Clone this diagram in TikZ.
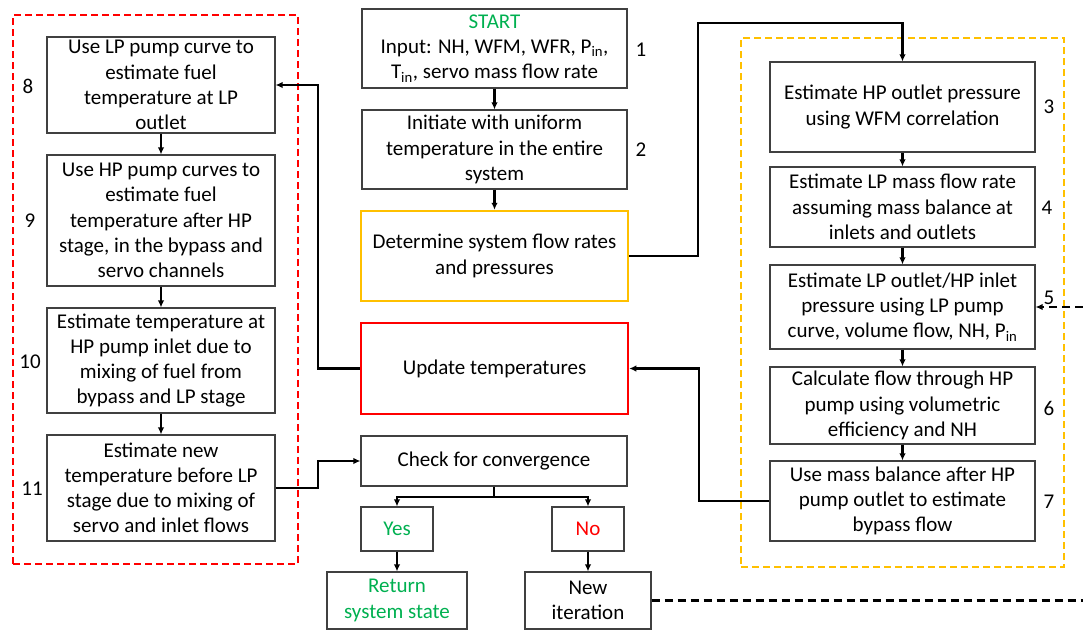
\documentclass[tikz,border=0pt]{standalone}
\usepackage{fontspec}
\setmainfont{Carlito}
\usetikzlibrary{arrows.meta}
\definecolor{ylw}{HTML}{FFC000}
\definecolor{rd}{HTML}{FF0000}
\definecolor{grn}{HTML}{00B050}
\tikzset{
  box/.style={draw=black!75, line width=1.2pt, align=center, inner sep=0pt, font=\fontsize{21}{25.2}\selectfont},
  ybox/.style={box, draw=ylw, line width=2.5pt},
  rbox/.style={box, draw=rd, line width=2.5pt},
  grp/.style={line width=2.2pt, dash pattern=on 7pt off 4pt, inner sep=0pt},
  conn/.style={line width=2.2pt, -{Latex[length=7pt,width=6.5pt]}},
  plain/.style={line width=2.2pt},
  dconn/.style={line width=2.2pt, dash pattern=on 8pt off 5pt},
  numlbl/.style={font=\fontsize{21}{24}\selectfont, inner sep=0pt},
}
\begin{document}
\begin{tikzpicture}[x=1pt,y=-1pt]
\useasboundingbox (0,0) rectangle (1083,630);
% group frames
\node[grp, draw=rd, minimum width=285pt, minimum height=549pt] (gl) at (155.5,289.5) {};
\node[grp, draw=ylw, minimum width=323pt, minimum height=529pt] (gr) at (902.5,302.5) {};
% center column
\node[box, minimum width=265pt, minimum height=79pt] (b1) at (494.5,48.5)
  {\textcolor{grn}{START}\\Input: NH, WFM, WFR, P\textsubscript{in},\\T\textsubscript{in}, servo mass flow rate};
\node[box, minimum width=265pt, minimum height=79pt] (b2) at (494.5,149.5)
  {Initiate with uniform\\temperature in the entire\\system};
\node[ybox, minimum width=267pt, minimum height=90pt] (det) at (494.5,256)
  {Determine system flow rates\\and pressures};
\node[rbox, minimum width=267pt, minimum height=91pt] (upd) at (494.5,368.5)
  {Update temperatures};
\node[box, minimum width=266pt, minimum height=50pt] (chk) at (494,461)
  {Check for convergence};
\node[box, minimum width=72pt, minimum height=44pt] (yes) at (397,529)
  {\textcolor{grn}{Yes}};
\node[box, minimum width=72pt, minimum height=44pt] (no) at (588,529)
  {\textcolor{rd}{No}};
\node[box, minimum width=140pt, minimum height=57pt] (ret) at (397,600.5)
  {\textcolor{grn}{Return}\\\textcolor{grn}{system state}};
\node[box, minimum width=126pt, minimum height=57pt] (new) at (588,600.5)
  {New\\iteration};
\node[numlbl] (n1) at (641,50) {1};
\node[numlbl] (n2) at (641,150) {2};
% right column
\node[box, minimum width=265pt, minimum height=90pt] (r3) at (902.5,107)
  {Estimate HP outlet pressure\\using WFM correlation};
\node[box, minimum width=265pt, minimum height=80pt] (r4) at (902.5,207)
  {Estimate LP mass flow rate\\assuming mass balance at\\inlets and outlets};
\node[box, minimum width=265pt, minimum height=84pt] (r5) at (902.5,307)
  {Estimate LP outlet/HP inlet\\pressure using LP pump\\curve, volume flow, NH, P\textsubscript{in}};
\node[box, minimum width=265pt, minimum height=77pt] (r6) at (902.5,405.5)
  {Calculate flow through HP\\pump using volumetric\\efficiency and NH};
\node[box, minimum width=265pt, minimum height=80pt] (r7) at (902.5,501)
  {Use mass balance after HP\\pump outlet to estimate\\bypass flow};
\node[numlbl] (n3) at (1049,107) {3};
\node[numlbl] (n4) at (1047,208) {4};
\node[numlbl] (n5) at (1049,298) {5};
\node[numlbl] (n6) at (1049,408) {6};
\node[numlbl] (n7) at (1049,502) {7};
% left column
\node[box, minimum width=228pt, minimum height=96pt] (l8) at (161,85)
  {Use LP pump curve to\\estimate fuel\\temperature at LP\\outlet};
\node[box, minimum width=228pt, minimum height=131pt] (l9) at (161,220.5)
  {Use HP pump curves to\\estimate fuel\\temperature after HP\\stage, in the bypass and\\servo channels};
\node[box, minimum width=228pt, minimum height=105pt] (l10) at (161,360.5)
  {Estimate temperature at\\HP pump inlet due to\\mixing of fuel from\\bypass and LP stage};
\node[box, minimum width=228pt, minimum height=106pt] (l11) at (161,488)
  {Estimate new\\temperature before LP\\stage due to mixing of\\servo and inlet flows};
\node[numlbl] (n8) at (28,86) {8};
\node[numlbl] (n9) at (30,221) {9};
\node[numlbl] (n10) at (30,362) {10};
\node[numlbl] (n11) at (32,489) {11};
% edge coordinates
\coordinate (e1) at (1083,600.5);
\coordinate (e2) at (1083,307);
% connectors
\draw[conn] (b1.south) -- (b2.north);
\draw[conn] (b2.south) -- (det.north);
\draw[conn] (det.east) -| (698,23) -| (r3.north);
\draw[conn] (r3.south) -- (r4.north);
\draw[conn] (r4.south) -- (r5.north);
\draw[conn] (r5.south) -- (r6.north);
\draw[conn] (r6.south) -- (r7.north);
\draw[conn] (r7.west) -| (699,368.5) -- (upd.east);
\draw[conn] (upd.west) -| (318,85) -- (l8.east);
\draw[conn] (l8.south) -- (l9.north);
\draw[conn] (l9.south) -- (l10.north);
\draw[conn] (l10.south) -- (l11.north);
\draw[conn] (l11.east) -| (318,461) -- (chk.west);
\draw[plain] (chk.south) -- ++(0,10) coordinate (sp);
\draw[conn] (sp) -| (yes.north);
\draw[conn] (sp) -| (no.north);
\draw[conn] (yes.south) -- (ret.north);
\draw[conn] (no.south) -- (new.north);
\draw[dconn] (new.east) -- (e1);
\draw[dconn, -{Latex[length=7pt,width=6.5pt]}] (e2) -- (r5.east);
\end{tikzpicture}
\end{document}
